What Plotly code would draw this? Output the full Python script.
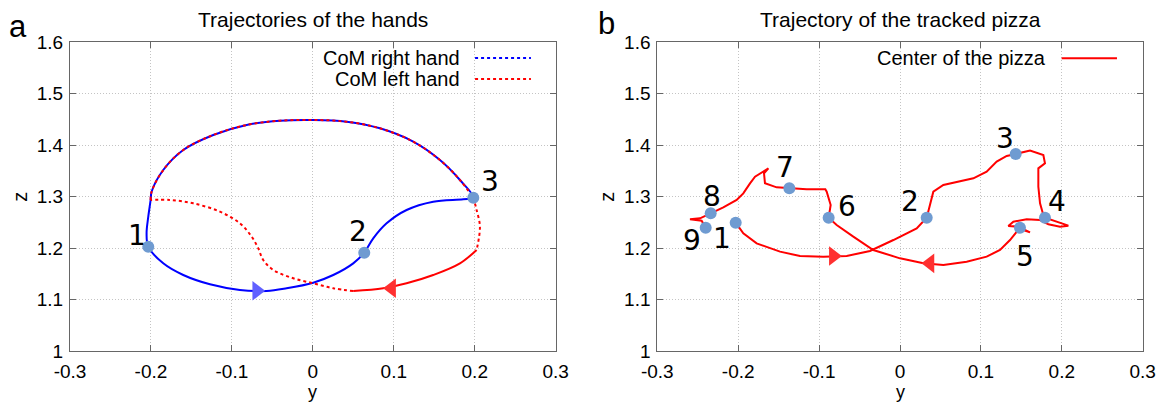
import plotly.graph_objects as go

# ---------------- data: panel a (hands) ----------------
right_hand_y = [-0.2033, -0.1848, -0.1601, -0.1271, -0.0901, -0.0571, -0.0324, 0.0005, 0.0252, 0.0499,
                0.0635, 0.0746, 0.0911, 0.1158, 0.1487, 0.1858, 0.1982,
                0.1817, 0.1570, 0.1240, 0.0829, 0.0417, 0.0005, -0.0406, -0.0818, -0.1230, -0.1601,
                -0.1848, -0.1992, -0.2004, -0.2033, -0.2054, -0.2033]
right_hand_z = [1.2027, 1.1704, 1.1477, 1.1296, 1.1186, 1.1166, 1.1219, 1.1328, 1.1477, 1.1704,
                1.1911, 1.2190, 1.2482, 1.2741, 1.2902, 1.2948, 1.2980,
                1.3324, 1.3712, 1.4069, 1.4328, 1.4457, 1.4490, 1.4476, 1.4393, 1.4199, 1.3907,
                1.3518, 1.3096, 1.2935, 1.2611, 1.2288, 1.2027]

left_hand_y = [0.1982, 0.2023, 0.2064, 0.2023, 0.1817, 0.1487, 0.1158, 0.0870, 0.0499, 0.0252,
               0.0005, -0.0242, -0.0489, -0.0613, -0.0674, -0.0756, -0.0901, -0.1148, -0.1477, -0.1765,
               -0.2004, -0.1992, -0.1848, -0.1601, -0.1230, -0.0818, -0.0406, 0.0005, 0.0417, 0.0829,
               0.1240, 0.1570, 0.1817, 0.1982]
left_hand_z = [1.2980, 1.2741, 1.2417, 1.1963, 1.1704, 1.1477, 1.1316, 1.1219, 1.1166, 1.1219,
               1.1316, 1.1413, 1.1575, 1.1769, 1.1994, 1.2223, 1.2482, 1.2708, 1.2870, 1.2935,
               1.2935, 1.3096, 1.3518, 1.3907, 1.4199, 1.4393, 1.4476, 1.4490, 1.4457, 1.4328,
               1.4069, 1.3712, 1.3324, 1.2980]

hands_pts_y = [-0.2033, 0.0635, 0.1982]
hands_pts_z = [1.2027, 1.1911, 1.2980]
hands_lbl_y = [-0.2177, 0.0553, 0.2188]
hands_lbl_z = [1.2241, 1.2319, 1.3291]
hands_labels = ["1", "2", "3"]

hands_arrow_right = (-0.0694, 1.1170)
hands_arrow_left = (0.0973, 1.1219)

# ---------------- data: panel b (pizza) ----------------
pizza_y = [-0.2031, -0.1937, -0.1772, -0.1483, -0.1236, -0.0948, -0.0659, -0.0371, -0.0082, 0.0206,
           0.0330, 0.0371, 0.0412, 0.0536, 0.0742, 0.0907, 0.1071, 0.1195, 0.1319, 0.1430,
           0.1607, 0.1772, 0.1792, 0.1710, 0.1710, 0.1731, 0.1772, 0.1792, 0.1937, 0.2081,
           0.1978, 0.1834, 0.1731, 0.1566, 0.1401, 0.1339, 0.1463, 0.1607, 0.1525, 0.1483,
           0.1360, 0.1236, 0.1071, 0.0824, 0.0536, 0.0289, 0.0000, -0.0330, -0.0577, -0.0783,
           -0.0882, -0.0857, -0.0906, -0.0923, -0.1154, -0.1368, -0.1525, -0.1669, -0.1681, -0.1627,
           -0.1792, -0.1854, -0.1937, -0.2019, -0.2184, -0.2340, -0.2472, -0.2596, -0.2452, -0.2402]
pizza_z = [1.2494, 1.2287, 1.2093, 1.1931, 1.1846, 1.1834, 1.1846, 1.1944, 1.2157, 1.2384,
           1.2592, 1.2870, 1.3097, 1.3226, 1.3291, 1.3356, 1.3486, 1.3680, 1.3790, 1.3829,
           1.3894, 1.3810, 1.3648, 1.3550, 1.3194, 1.2870, 1.2643, 1.2592, 1.2514, 1.2436,
           1.2417, 1.2462, 1.2546, 1.2559, 1.2514, 1.2430, 1.2417, 1.2306, 1.2352, 1.2397,
           1.2157, 1.1963, 1.1834, 1.1736, 1.1672, 1.1704, 1.1801, 1.1963, 1.2222, 1.2449,
           1.2592, 1.2838, 1.3097, 1.3142, 1.3142, 1.3162, 1.3181, 1.3259, 1.3453, 1.3550,
           1.3388, 1.3259, 1.3064, 1.2935, 1.2792, 1.2676, 1.2578, 1.2559, 1.2533, 1.2397]

pizza_pts_y = [-0.2031, 0.0330, 0.1430, 0.1792, 0.1483, -0.0882, -0.1368, -0.2340, -0.2402]
pizza_pts_z = [1.2494, 1.2592, 1.3829, 1.2592, 1.2397, 1.2592, 1.3162, 1.2676, 1.2397]
pizza_lbl_y = [-0.2204, 0.0124, 0.1298, 0.1937, 0.1545, -0.0659, -0.1421, -0.2328, -0.2575]
pizza_lbl_z = [1.2190, 1.2902, 1.4134, 1.2902, 1.1833, 1.2805, 1.3570, 1.2999, 1.2157]
pizza_labels = ["1", "2", "3", "4", "5", "6", "7", "8", "9"]

pizza_arrow_right = (-0.0824, 1.1846)
pizza_arrow_left = (0.0371, 1.1704)

tick_vals_y = [-0.3, -0.2, -0.1, 0, 0.1, 0.2, 0.3]
tick_text_y = ["-0.3", "-0.2", "-0.1", "0", "0.1", "0.2", "0.3"]
tick_vals_z = [1.0, 1.1, 1.2, 1.3, 1.4, 1.5, 1.6]
tick_text_z = ["1", "1.1", "1.2", "1.3", "1.4", "1.5", "1.6"]

titles = ["Trajectories of the hands", "Trajectory of the tracked pizza"]
axis_titles = ["y", "z"]
legend_a = ["CoM right hand", "CoM left hand"]
legend_b = ["Center of the pizza"]

# ---------------- figure ----------------
W, H = 1168, 404
BLUE = "#0000ff"
RED = "#ff0000"
PT = "#6f9bd1"
FONT = "Liberation Sans, Arial, sans-serif"
NUMFONT = "DejaVu Sans, sans-serif"

fig = go.Figure()

# panel a
fig.add_trace(go.Scatter(x=right_hand_y, y=right_hand_z, mode="lines",
                         line=dict(color=BLUE, width=2, shape="spline"),
                         xaxis="x", yaxis="y", showlegend=False, hoverinfo="skip"))
# left hand: dotted / solid / dotted / dotted(top)
segs = [(0, 4, "dot"), (3, 9, "solid"), (8, 21, "dot"), (20, 34, "dot")]
for a, b, d in segs:
    fig.add_trace(go.Scatter(x=left_hand_y[a:b], y=left_hand_z[a:b], mode="lines",
                             line=dict(color=RED, width=2, dash=d, shape="spline"),
                             xaxis="x", yaxis="y", showlegend=False, hoverinfo="skip"))
fig.add_trace(go.Scatter(x=[hands_arrow_right[0]], y=[hands_arrow_right[1]], mode="markers",
                         marker=dict(symbol="triangle-right", size=17, color="#6060ff"),
                         xaxis="x", yaxis="y", showlegend=False))
fig.add_trace(go.Scatter(x=[hands_arrow_left[0]], y=[hands_arrow_left[1]], mode="markers",
                         marker=dict(symbol="triangle-left", size=17, color="#ff3030"),
                         xaxis="x", yaxis="y", showlegend=False))
fig.add_trace(go.Scatter(x=hands_pts_y, y=hands_pts_z, mode="markers",
                         marker=dict(size=12, color=PT),
                         xaxis="x", yaxis="y", showlegend=False))

# panel b
fig.add_trace(go.Scatter(x=pizza_y, y=pizza_z, mode="lines",
                         line=dict(color=RED, width=2),
                         xaxis="x2", yaxis="y2", showlegend=False, hoverinfo="skip"))
fig.add_trace(go.Scatter(x=[pizza_arrow_right[0]], y=[pizza_arrow_right[1]], mode="markers",
                         marker=dict(symbol="triangle-right", size=17, color="#ff3030"),
                         xaxis="x2", yaxis="y2", showlegend=False))
fig.add_trace(go.Scatter(x=[pizza_arrow_left[0]], y=[pizza_arrow_left[1]], mode="markers",
                         marker=dict(symbol="triangle-left", size=17, color="#ff3030"),
                         xaxis="x2", yaxis="y2", showlegend=False))
fig.add_trace(go.Scatter(x=pizza_pts_y, y=pizza_pts_z, mode="markers",
                         marker=dict(size=12, color=PT),
                         xaxis="x2", yaxis="y2", showlegend=False))

annotations = []
for lx, lz, t in zip(hands_lbl_y, hands_lbl_z, hands_labels):
    annotations.append(dict(x=lx, y=lz, xref="x", yref="y", text=t, showarrow=False,
                            font=dict(family=NUMFONT, size=28, color="black")))
for lx, lz, t in zip(pizza_lbl_y, pizza_lbl_z, pizza_labels):
    annotations.append(dict(x=lx, y=lz, xref="x2", yref="y2", text=t, showarrow=False,
                            font=dict(family=NUMFONT, size=28, color="black")))

# titles
for ax, t in zip(["x", "x2"], titles):
    annotations.append(dict(x=0.5, y=1 - 19 / H, xref=ax + " domain", yref="paper", text=t,
                            showarrow=False, xanchor="center", yanchor="middle",
                            font=dict(family=FONT, size=21, color="black")))
# axis titles
for ax in ["x", "x2"]:
    annotations.append(dict(x=0.5, y=0.0, xref=ax + " domain", yref="paper", text=axis_titles[0],
                            showarrow=False, xanchor="center", yanchor="bottom",
                            font=dict(family=FONT, size=18, color="black")))
for px in [20, 607]:
    annotations.append(dict(x=px / W, y=0.5, xref="paper", yref="y domain", text=axis_titles[1],
                            showarrow=False, xanchor="center", yanchor="middle", textangle=-90,
                            font=dict(family=FONT, size=20, color="black")))
# panel letters
annotations.append(dict(x=18 / W, y=1 - 26 / H, xref="paper", yref="paper", text="a", showarrow=False,
                        xanchor="center", yanchor="middle", font=dict(family=FONT, size=31, color="black")))
annotations.append(dict(x=606 / W, y=1 - 23 / H, xref="paper", yref="paper", text="b", showarrow=False,
                        xanchor="center", yanchor="middle", font=dict(family=FONT, size=31, color="black")))

# custom legends (text then sample line)
shapes = []
leg_rows_y = [0.949, 0.881]
for (txt, col, dsh), ly in zip([(legend_a[0], BLUE, "dot"), (legend_a[1], RED, "dot")], leg_rows_y):
    annotations.append(dict(x=0.807, y=ly, xref="x domain", yref="y domain", text=txt, showarrow=False,
                            xanchor="right", yanchor="middle", font=dict(family=FONT, size=20, color="black")))
    shapes.append(dict(type="line", xref="x domain", yref="y domain", x0=0.834, x1=0.949, y0=ly, y1=ly,
                       line=dict(color=col, width=2, dash=dsh)))
annotations.append(dict(x=0.805, y=0.948, xref="x2 domain", yref="y2 domain", text=legend_b[0], showarrow=False,
                        xanchor="right", yanchor="middle", font=dict(family=FONT, size=20, color="black")))
shapes.append(dict(type="line", xref="x2 domain", yref="y2 domain", x0=0.833, x1=0.947, y0=0.948, y1=0.948,
                   line=dict(color=RED, width=2)))

axis_common = dict(showline=True, linecolor="#666666", linewidth=1, mirror="allticks",
                   ticks="inside", ticklen=6, tickcolor="#666666", automargin=False,
                   showgrid=True, gridcolor="#c4c4c4", griddash="1px,2px", gridwidth=1,
                   zeroline=False)

xtickfont = dict(family=FONT, size=19, color="black")
ytickfont = dict(family=FONT, size=19, color="black")

xdom1 = [70 / W, 555.7 / W]
xdom2 = [657.3 / W, 1142.7 / W]
ydom = [(H - 351) / H, (H - 42.3) / H]

fig.update_layout(
    width=W, height=H, autosize=False,
    margin=dict(l=0, r=0, t=0, b=0, pad=0),
    paper_bgcolor="white", plot_bgcolor="white",
    xaxis=dict(domain=xdom1, range=[-0.3, 0.3], tickvals=tick_vals_y, ticktext=tick_text_y,
               anchor="y", ticklabelstandoff=3, tickfont=xtickfont, **axis_common),
    yaxis=dict(domain=ydom, range=[1.0, 1.6], tickvals=tick_vals_z, ticktext=tick_text_z,
               anchor="x", ticklabelstandoff=2, tickfont=ytickfont, **axis_common),
    xaxis2=dict(domain=xdom2, range=[-0.3, 0.3], tickvals=tick_vals_y, ticktext=tick_text_y,
                anchor="y2", ticklabelstandoff=3, tickfont=xtickfont, **axis_common),
    yaxis2=dict(domain=ydom, range=[1.0, 1.6], tickvals=tick_vals_z, ticktext=tick_text_z,
                anchor="x2", ticklabelstandoff=2, tickfont=ytickfont, **axis_common),
    annotations=annotations, shapes=shapes, showlegend=False,
)

fig.write_html("out.html")
